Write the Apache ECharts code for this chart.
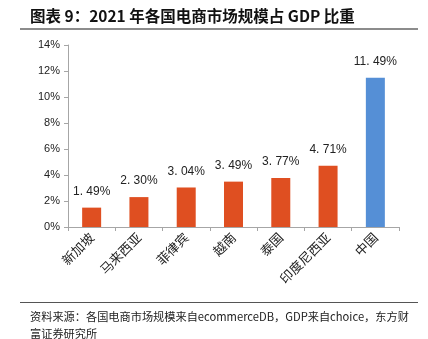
<!DOCTYPE html>
<html>
<head>
<meta charset="utf-8">
<script src="https://cdn.jsdelivr.net/npm/echarts@6/dist/echarts.min.js"></script>
<style>
html, body { margin: 0; padding: 0; background: #fff; }
#main { width: 428px; height: 339px; }
</style>
</head>
<body>
<div id="main"></div>
<script>
var countries = ['新加坡', '马来西亚', '菲律宾', '越南', '泰国', '印度尼西亚', '中国'];
var shares = [1.49, 2.30, 3.04, 3.49, 3.77, 4.71, 11.49];
var yTicks = [0, 2, 4, 6, 8, 10, 12, 14];

var cjk = '"Noto Sans CJK SC", sans-serif';

var chart = echarts.init(document.getElementById('main'), null, { renderer: 'canvas' });

var option = {
	animation : false,
	backgroundColor : '#fff',
	grid : {
		left : 68,
		right : 29,
		top : 45,
		bottom : 112
	},
	xAxis : {
		type : 'category',
		data : countries,
		axisLine : { lineStyle : { color : '#a6a6a6', width : 1 } },
		axisTick : { show : true, length : 4, lineStyle : { color : '#a6a6a6' } },
		axisLabel : {
			rotate : 45,
			margin : 8,
			color : '#222',
			fontSize : 13,
			fontFamily : cjk
		}
	},
	yAxis : {
		type : 'value',
		min : yTicks[0],
		max : yTicks[yTicks.length - 1],
		interval : 2,
		axisLine : { show : true, lineStyle : { color : '#a6a6a6', width : 1 } },
		axisTick : { show : true, length : 4, lineStyle : { color : '#a6a6a6' } },
		splitLine : { show : false },
		axisLabel : {
			color : '#222',
			fontSize : 11,
			fontFamily : 'Arial, "Liberation Sans", sans-serif',
			margin : 8,
			formatter : function(v) { return v + '%'; }
		}
	},
	series : [ {
		type : 'bar',
		barWidth : 19,
		data : shares.map(function(v, i) {
			return {
				value : v,
				itemStyle : { color : i === shares.length - 1 ? '#558fd6' : '#df4f21' }
			};
		}),
		label : {
			show : true,
			position : 'top',
			distance : 10,
			color : '#222',
			fontSize : 12,
			fontFamily : 'Arial, "Liberation Sans", sans-serif',
			formatter : function(p) { return p.value.toFixed(2).replace('.', '. ') + '%'; }
		}
	} ],
	graphic : [ {
		type : 'text',
		left : 30,
		top : 8,
		style : {
			text : '图表 9：2021 年各国电商市场规模占 GDP 比重',
			font : 'bold 15.5px ' + cjk,
			fill : '#111'
		}
	}, {
		type : 'rect',
		shape : { x : 20, y : 28, width : 398, height : 2 },
		style : { fill : '#8c8c8c' }
	}, {
		type : 'rect',
		shape : { x : 20, y : 302, width : 398, height : 1 },
		style : { fill : '#555' }
	}, {
		type : 'text',
		left : 30,
		top : 308,
		style : {
			text : '资料来源：各国电商市场规模来自ecommerceDB，GDP来自choice，东方财\n富证券研究所',
			font : '11.2px ' + cjk,
			lineHeight : 17,
			fill : '#222'
		}
	} ]
};

chart.setOption(option);
</script>
</body>
</html>
